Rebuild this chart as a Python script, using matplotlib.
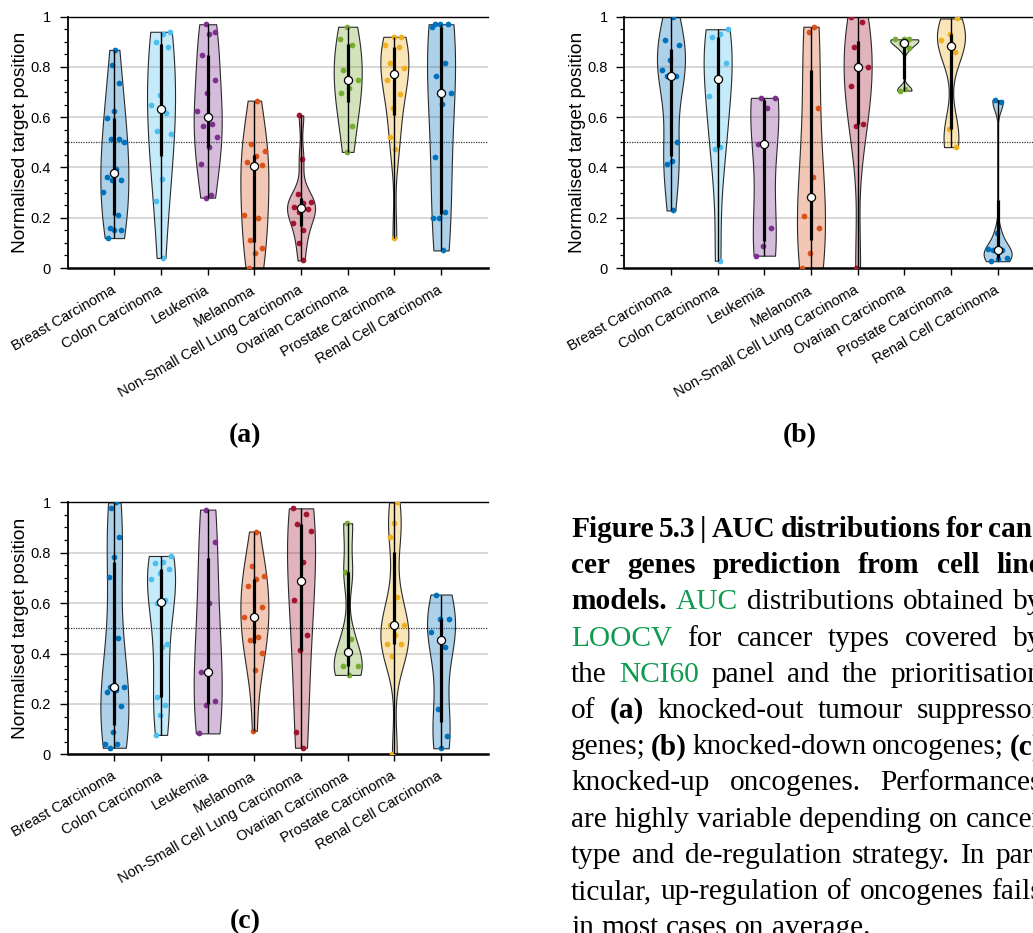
import numpy as np
import matplotlib
matplotlib.use("Agg")
import matplotlib.pyplot as plt
from matplotlib import cbook, mlab
from matplotlib.colors import to_rgba

plt.rcParams["font.family"] = ["Liberation Sans", "DejaVu Sans"]

W, H = 1033, 933

categories = ["Breast Carcinoma", "Colon Carcinoma", "Leukemia", "Melanoma",
              "Non-Small Cell Lung Carcinoma", "Ovarian Carcinoma",
              "Prostate Carcinoma", "Renal Cell Carcinoma"]
colors = ["#0072BD", "#4DBEEE", "#7E2F8E", "#D95319",
          "#A2142F", "#77AC30", "#EDB120", "#0072BD"]
ytick_vals = [0, 0.2, 0.4, 0.6, 0.8, 1]
ytick_labels = ["0", "0.2", "0.4", "0.6", "0.8", "1"]

# (a) knocked-out tumour suppressor genes
a_breast = [0.868, 0.808, 0.735, 0.625, 0.595, 0.513, 0.513, 0.503, 0.393,
            0.362, 0.351, 0.351, 0.301, 0.209, 0.159, 0.15, 0.15, 0.119]
a_colon = [0.94, 0.93, 0.90, 0.88, 0.69, 0.65, 0.615, 0.545, 0.535, 0.355, 0.265, 0.04]
a_leuk = [0.97, 0.938, 0.93, 0.848, 0.747, 0.695, 0.626, 0.575, 0.564, 0.523,
          0.483, 0.413, 0.291, 0.28]
a_mel = [0.666, 0.493, 0.464, 0.444, 0.421, 0.41, 0.404, 0.209, 0.199, 0.111,
         0.079, 0.058, 0.0]
a_nsclc = [0.607, 0.434, 0.293, 0.262, 0.26, 0.242, 0.233, 0.222, 0.18, 0.151, 0.10, 0.03]
a_ovar = [0.96, 0.91, 0.887, 0.787, 0.747, 0.715, 0.695, 0.564, 0.462]
a_prost = [0.92, 0.92, 0.887, 0.879, 0.817, 0.795, 0.77, 0.748, 0.693, 0.636,
           0.523, 0.473, 0.119]
a_renal = [0.97, 0.97, 0.97, 0.958, 0.817, 0.766, 0.695, 0.654, 0.442, 0.222,
           0.199, 0.199, 0.07]

# (b) knocked-down oncogenes
b_breast = [1.0, 0.907, 0.887, 0.828, 0.787, 0.766, 0.766, 0.503, 0.424, 0.415, 0.229]
b_colon = [0.95, 0.93, 0.918, 0.817, 0.751, 0.685, 0.483, 0.473, 0.029]
b_leuk = [0.677, 0.677, 0.637, 0.494, 0.16, 0.089, 0.049]
b_mel = [0.96, 0.938, 0.636, 0.362, 0.205, 0.159, 0.06, 0.0]
b_nsclc = [1.0, 0.977, 0.878, 0.801, 0.801, 0.725, 0.574, 0.566, 0.0]
b_ovar = [0.91, 0.91, 0.91, 0.894, 0.874, 0.711, 0.706]
b_prost = [0.993, 0.93, 0.908, 0.858, 0.554, 0.481]
b_renal = [0.668, 0.662, 0.139, 0.075, 0.072, 0.07, 0.04, 0.035, 0.027]

# (c) knocked-up oncogenes
c_breast = [1.0, 0.976, 0.861, 0.783, 0.705, 0.462, 0.268, 0.268, 0.255, 0.246,
            0.192, 0.09, 0.04, 0.04, 0.026]
c_colon = [0.787, 0.765, 0.761, 0.734, 0.721, 0.694, 0.612, 0.599, 0.438, 0.425,
           0.226, 0.197, 0.157, 0.077]
c_leuk = [0.971, 0.841, 0.599, 0.328, 0.213, 0.197, 0.083]
c_mel = [0.884, 0.749, 0.708, 0.694, 0.668, 0.586, 0.546, 0.546, 0.467, 0.454,
         0.401, 0.333, 0.093]
c_nsclc = [0.976, 0.952, 0.913, 0.888, 0.762, 0.612, 0.474, 0.414, 0.087, 0.026]
c_ovar = [0.917, 0.722, 0.458, 0.351, 0.351, 0.315]
c_prost = [1.0, 0.917, 0.861, 0.626, 0.513, 0.513, 0.474, 0.438, 0.438, 0.39, 0.0]
c_renal = [0.634, 0.535, 0.535, 0.485, 0.426, 0.181, 0.072, 0.024]

panel_a = [a_breast, a_colon, a_leuk, a_mel, a_nsclc, a_ovar, a_prost, a_renal]
panel_b = [b_breast, b_colon, b_leuk, b_mel, b_nsclc, b_ovar, b_prost, b_renal]
panel_c = [c_breast, c_colon, c_leuk, c_mel, c_nsclc, c_ovar, c_prost, c_renal]


def mad_bw(kde):
    # bandwidth like matlab ksdensity (robust normal rule)
    x = kde.dataset.ravel()
    sig = np.median(np.abs(x - np.median(x))) / 0.6745
    if sig <= 0:
        sig = x.max() - x.min()
    bw = sig * (4 / (3 * len(x))) ** 0.2
    return bw / np.std(x, ddof=1)


def kde_method(x, coords):
    return mlab.GaussianKDE(x, mad_bw).evaluate(coords)


def draw_panel(ax, groups):
    pos = np.arange(len(groups))
    for v in [0.2, 0.4, 0.6, 0.8]:
        ax.axhline(v, color="#d4d4d4", lw=1.3, zorder=0)
    ax.axhline(0.5, color="#333333", lw=0.9, ls=(0, (1, 1)), zorder=0.5)

    stats = cbook.violin_stats([np.array(g) for g in groups], kde_method, points=200)
    parts = ax.violin(stats, positions=pos, widths=0.6,
                      showmeans=False, showextrema=False, showmedians=False)
    for body, c in zip(parts["bodies"], colors):
        body.set_alpha(None)
        body.set_facecolor(to_rgba(c, 0.32))
        body.set_edgecolor("#2a2a2a")
        body.set_linewidth(0.8)
        body.set_zorder(1)

    for i, (g, st, c) in enumerate(zip(groups, stats, colors)):
        g = np.array(g)
        half = st["vals"] / st["vals"].max() * 0.3
        strength = np.interp(g, st["coords"], half)
        jit = ((np.arange(len(g)) + 1) * 0.618034 + i * 0.37) % 1 * 2 - 1
        ax.scatter(i + jit * strength * 0.85, g, s=17, color=c, lw=0, zorder=3)
        q1, med, q3 = np.percentile(g, [25, 50, 75], method="hazen")
        ax.vlines(i, g.min(), g.max(), color="k", lw=1.0, zorder=4)
        ax.vlines(i, q1, q3, color="k", lw=2.3, zorder=4)
        ax.scatter([i], [med], s=34, color="white", edgecolor="k", lw=0.9, zorder=5)

    ax.set_xlim(-1, 8)
    ax.set_ylim(0, 1)
    ax.set_yticks(ytick_vals)
    ax.set_yticklabels(ytick_labels)
    ax.set_yticks(np.arange(0, 1.001, 0.05), minor=True)
    ax.set_xticks(pos)
    ax.set_xticklabels(categories, rotation=30, ha="right", va="center",
                       rotation_mode="anchor")
    ax.tick_params(axis="y", which="major", direction="out", length=6, width=1.0,
                   labelsize=10.5, pad=6)
    ax.tick_params(axis="y", which="minor", direction="out", length=3, width=0.9)
    ax.tick_params(axis="x", direction="out", length=5, width=1.0,
                   labelsize=10.5, pad=10)
    ax.spines["right"].set_visible(False)
    ax.spines["top"].set_linewidth(1.0)
    ax.spines["left"].set_linewidth(1.3)
    ax.spines["bottom"].set_linewidth(1.8)
    ax.set_ylabel("Normalised target position", fontsize=13.8)
    ax.yaxis.set_label_coords(-0.092, 0.5)


fig = plt.figure(figsize=(W / 100, H / 100), dpi=100)

ax_w = 420 / W
ax_a = fig.add_axes([67.7 / W, 1 - 268 / H, ax_w, 251.3 / H])
ax_b = fig.add_axes([624.3 / W, 1 - 268 / H, ax_w, 251.3 / H])
ax_c = fig.add_axes([67.7 / W, 1 - 754.3 / H, ax_w, 252 / H])
draw_panel(ax_a, panel_a)
draw_panel(ax_b, panel_b)
draw_panel(ax_c, panel_c)

serif = ["Liberation Serif", "DejaVu Serif"]
for lab, x, y in [("(a)", 245, 442), ("(b)", 800, 442), ("(c)", 245, 928)]:
    fig.text(x / W, 1 - y / H, lab, family=serif, weight="bold", size=20,
             ha="center", va="baseline")

# caption, justified word by word (the right part is cut by the page edge)
caption = [
    [("Figure", "b"), ("5.3", "b"), ("|", "b"), ("AUC", "b"), ("distributions", "b"),
     ("for", "b"), ("can-", "b")],
    [("cer", "b"), ("genes", "b"), ("prediction", "b"), ("from", "b"), ("cell", "b"),
     ("line", "b")],
    [("models.", "b"), ("AUC", "g"), ("distributions", "n"), ("obtained", "n"), ("by", "n")],
    [("LOOCV", "g"), ("for", "n"), ("cancer", "n"), ("types", "n"), ("covered", "n"),
     ("by", "n")],
    [("the", "n"), ("NCI60", "g"), ("panel", "n"), ("and", "n"), ("the", "n"),
     ("prioritisation", "n")],
    [("of", "n"), ("(a)", "b"), ("knocked-out", "n"), ("tumour", "n"), ("suppressor", "n")],
    [("genes;", "n"), ("(b)", "b"), ("knocked-down", "n"), ("oncogenes;", "n"), ("(c)", "b")],
    [("knocked-up", "n"), ("oncogenes.", "n"), ("Performances", "n")],
    [("are", "n"), ("highly", "n"), ("variable", "n"), ("depending", "n"), ("on", "n"),
     ("cancer", "n")],
    [("type", "n"), ("and", "n"), ("de-regulation", "n"), ("strategy.", "n"), ("In", "n"),
     ("par-", "n")],
    [("ticular,", "n"), ("up-regulation", "n"), ("of", "n"), ("oncogenes", "n"),
     ("fails", "n")],
    [("in", "n"), ("most", "n"), ("cases", "n"), ("on", "n"), ("average.", "n")],
]
cap_left, cap_right = 571, 1042
cap_base, cap_step = 537, 36.2
cap_size = 21.2

renderer = fig.canvas.get_renderer()
space_t = fig.text(0, 0, "n n", family=serif, size=cap_size)
n_t = fig.text(0, 0, "nn", family=serif, size=cap_size)
space_w = space_t.get_window_extent(renderer).width - n_t.get_window_extent(renderer).width
space_t.remove()
n_t.remove()

for li, line in enumerate(caption):
    texts, widths = [], []
    for word, st in line:
        t = fig.text(0, 1 - (cap_base + li * cap_step) / H, word, family=serif,
                     size=cap_size, va="baseline", ha="left",
                     weight="bold" if st == "b" else "normal",
                     color="#0f9b4f" if st == "g" else "black")
        texts.append(t)
        widths.append(t.get_window_extent(renderer).width)
    if li == len(caption) - 1:
        gap = space_w
    else:
        gap = (cap_right - cap_left - sum(widths)) / (len(widths) - 1)
    x = cap_left
    for t, w in zip(texts, widths):
        t.set_x(x / W)
        x += w + gap

fig.savefig("out.png", dpi=100)
